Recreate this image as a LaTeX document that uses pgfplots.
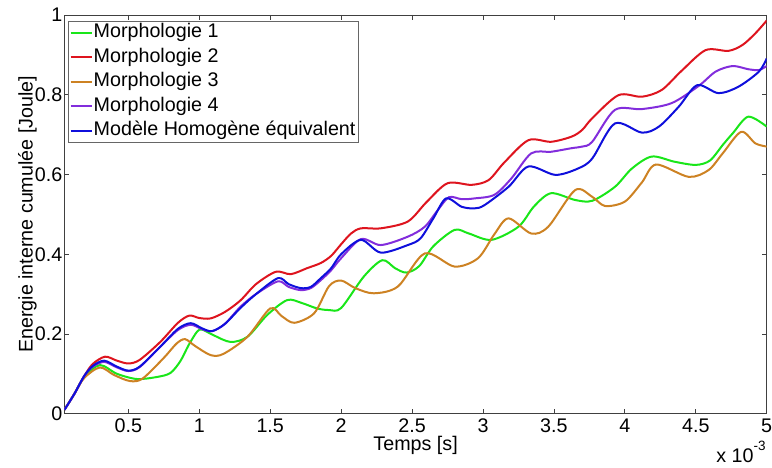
\documentclass[border=0pt]{standalone}
\usepackage{fontspec}
\setmainfont{Liberation Sans}
\usepackage{pgfplots}
\pgfplotsset{compat=1.18}
\definecolor{cgreen}{RGB}{25,230,25}
\definecolor{cred}{RGB}{222,20,30}
\definecolor{corange}{RGB}{205,130,35}
\definecolor{cpurple}{RGB}{130,45,220}
\definecolor{cblue}{RGB}{15,15,220}
\begin{document}
\fontsize{19.7}{23}\selectfont
\begin{tikzpicture}
\begin{axis}[
  scale only axis, width=702.2pt, height=398.7pt,
  xmin=0.05, xmax=5, ymin=0, ymax=1,
  xtick={0.5,1,1.5,2,2.5,3,3.5,4,4.5,5},
  ytick={0,0.2,0.4,0.6,0.8,1},
  tick align=inside, major tick length=5pt,
  axis line style={draw=black!75, line width=0.8pt},
  tick style={draw=black!75, line width=0.8pt},
  ticklabel style={font=\fontsize{19.7}{23}\selectfont},
  yticklabel style={inner sep=2pt},
  xticklabel style={yshift=2pt},
  /pgf/number format/assume math mode=true,
  xlabel={Temps [s]},
  ylabel={Energie interne cumulée [Joule]},
  xlabel style={inner sep=0pt, yshift=3pt},
  ylabel style={inner sep=0pt, yshift=-4pt},
  label style={font=\fontsize{19.7}{23}\selectfont},
  legend style={at={(axis description cs:0.005,0.985)}, anchor=north west,
    draw=black!60, fill=white, font=\fontsize{19.7}{23}\selectfont,
    inner sep=1.5pt, row sep=4pt,
    nodes={inner sep=1pt, text height=14pt, text depth=4.5pt}},
  legend cell align=left,
  legend image code/.code={\draw[#1,line width=2pt] (0pt,0pt) -- (21pt,0pt);},
  every axis plot/.append style={line width=2pt, smooth},
]
\addplot[cgreen] coordinates {(0.05,0.01)(0.12,0.05)(0.19,0.093)(0.30,0.122)(0.42,0.1)(0.56,0.087)(0.7,0.092)(0.796,0.102)(0.867,0.132)(0.925,0.172)(0.985,0.206)(1.02,0.211)(1.1,0.197)(1.22,0.18)(1.34,0.193)(1.48,0.248)(1.62,0.285)(1.72,0.278)(1.83,0.264)(1.915,0.26)(2.0,0.265)(2.16,0.344)(2.29,0.385)(2.38,0.365)(2.46,0.354)(2.55,0.37)(2.65,0.42)(2.80,0.461)(2.9,0.452)(3.06,0.436)(3.25,0.469)(3.36,0.52)(3.48,0.553)(3.65,0.536)(3.77,0.534)(3.93,0.569)(4.05,0.615)(4.19,0.645)(4.35,0.632)(4.50,0.624)(4.6,0.635)(4.69,0.674)(4.76,0.703)(4.87,0.745)(5.0,0.72)};
\addlegendentry{Morphologie 1}
\addplot[cred] coordinates {(0.05,0.01)(0.12,0.05)(0.19,0.095)(0.25,0.125)(0.336,0.143)(0.42,0.133)(0.5,0.126)(0.58,0.135)(0.725,0.18)(0.85,0.228)(0.93,0.246)(1.0,0.24)(1.08,0.239)(1.18,0.255)(1.29,0.284)(1.4,0.325)(1.54,0.356)(1.645,0.350)(1.76,0.365)(1.857,0.378)(1.93,0.396)(2.0,0.425)(2.07,0.452)(2.14,0.465)(2.28,0.465)(2.47,0.482)(2.6,0.53)(2.75,0.578)(2.92,0.574)(3.04,0.586)(3.15,0.63)(3.32,0.686)(3.48,0.682)(3.625,0.695)(3.70,0.712)(3.77,0.741)(3.955,0.799)(4.12,0.795)(4.26,0.812)(4.4,0.86)(4.57,0.912)(4.73,0.91)(4.83,0.925)(4.92,0.954)(5.0,0.986)};
\addlegendentry{Morphologie 2}
\addplot[corange] coordinates {(0.05,0.01)(0.12,0.05)(0.19,0.09)(0.30,0.116)(0.4,0.097)(0.51,0.082)(0.6,0.088)(0.75,0.14)(0.84,0.176)(0.90,0.187)(0.97,0.17)(1.08,0.147)(1.17,0.15)(1.34,0.193)(1.50,0.264)(1.58,0.245)(1.67,0.228)(1.81,0.252)(1.915,0.32)(2.0,0.334)(2.1,0.315)(2.23,0.302)(2.40,0.319)(2.59,0.402)(2.80,0.369)(2.965,0.39)(3.08,0.45)(3.18,0.49)(3.34,0.452)(3.46,0.469)(3.65,0.561)(3.77,0.544)(3.86,0.521)(4.0,0.532)(4.12,0.58)(4.22,0.625)(4.45,0.594)(4.59,0.611)(4.69,0.653)(4.82,0.707)(4.92,0.678)(5.0,0.67)};
\addlegendentry{Morphologie 3}
\addplot[cpurple] coordinates {(0.05,0.01)(0.12,0.05)(0.19,0.095)(0.25,0.118)(0.33,0.13)(0.42,0.116)(0.5,0.107)(0.58,0.117)(0.725,0.168)(0.85,0.21)(0.94,0.223)(1.02,0.212)(1.09,0.207)(1.18,0.225)(1.29,0.268)(1.4,0.3)(1.555,0.332)(1.63,0.318)(1.715,0.31)(1.786,0.315)(1.857,0.335)(1.93,0.36)(2.0,0.39)(2.14,0.438)(2.28,0.423)(2.47,0.444)(2.59,0.469)(2.68,0.51)(2.76,0.543)(2.85,0.538)(2.94,0.54)(3.08,0.549)(3.2,0.59)(3.34,0.653)(3.48,0.657)(3.625,0.666)(3.70,0.67)(3.77,0.682)(3.93,0.762)(4.12,0.764)(4.33,0.779)(4.52,0.822)(4.64,0.858)(4.76,0.872)(4.87,0.864)(4.945,0.862)(5.0,0.872)};
\addlegendentry{Morphologie 4}
\addplot[cblue] coordinates {(0.05,0.01)(0.12,0.05)(0.19,0.095)(0.25,0.12)(0.33,0.133)(0.42,0.118)(0.5,0.108)(0.58,0.118)(0.725,0.168)(0.85,0.213)(0.94,0.227)(1.02,0.214)(1.09,0.207)(1.18,0.225)(1.29,0.265)(1.4,0.3)(1.555,0.34)(1.63,0.325)(1.715,0.315)(1.786,0.318)(1.857,0.34)(1.93,0.365)(2.0,0.4)(2.14,0.436)(2.28,0.404)(2.47,0.423)(2.56,0.44)(2.65,0.49)(2.74,0.54)(2.85,0.519)(2.94,0.515)(3.01,0.523)(3.18,0.569)(3.32,0.62)(3.51,0.599)(3.67,0.615)(3.77,0.64)(3.93,0.728)(4.12,0.705)(4.24,0.72)(4.38,0.77)(4.51,0.824)(4.66,0.804)(4.80,0.82)(4.945,0.858)(5.0,0.891)};
\addlegendentry{Modèle Homogène équivalent}
\end{axis}
\node[anchor=base east, inner sep=0pt] at ([xshift=-1pt,yshift=-49pt]current axis.south east) {x 10\raisebox{0.62em}{\fontsize{13.5}{14}\selectfont -3}};
\pgfresetboundingbox
\path[use as bounding box] ([xshift=-64.5pt,yshift=-53.3pt]current axis.south west) rectangle ([xshift=5.3pt,yshift=15pt]current axis.north east);
\end{tikzpicture}
\end{document}
